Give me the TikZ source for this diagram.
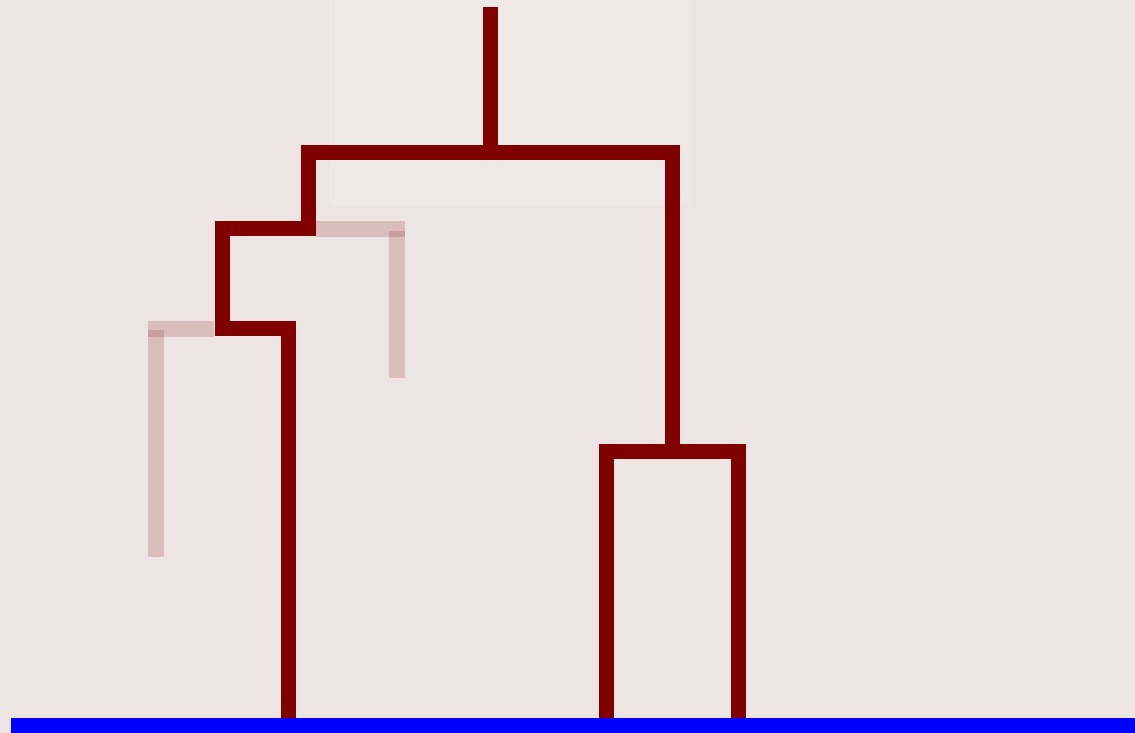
\documentclass[tikz,border=0pt]{standalone}
\usepackage{xcolor}
\usepackage{tikz}
\definecolor{treered}{RGB}{128,0,0}
\definecolor{paperbg}{RGB}{236,229,227}
\definecolor{paperlight}{RGB}{241,238,233}
\colorlet{groundblue}{blue}

\begin{document}
\begin{tikzpicture}[x=0.02cm, y=-0.02cm,
    branch/.style={draw=treered, line width=0.3cm, line join=miter},
    ghost/.style={fill=treered, fill opacity=0.17},
    groundbar/.style={fill=groundblue}]
    % Background paper
    \fill[paperbg] (0,0) rectangle (1135,733);
    \fill[paperlight, opacity=0.5] (330,0) rectangle (690,205);
    \useasboundingbox (0,0) rectangle (1135,733);

    % Faded branches behind the tree
    \fill[ghost] (316,221) rectangle (405,237);
    \fill[ghost] (389,231) rectangle (405,378);
    \fill[ghost] (148,321) rectangle (214,337);
    \fill[ghost] (148,330) rectangle (164,557);

    % Points of the tree
    \coordinate (leafA) at (288,718);
    \coordinate (leafB) at (606.5,718);
    \coordinate (leafC) at (738.5,718);
    \coordinate (joinA) at (222.5,328.5);
    \coordinate (joinAB) at (308.5,228.5);
    \coordinate (joinBC) at (672.5,451.5);
    \coordinate (top) at (490.5,152.5);
    \coordinate (root) at (490.5,7);

    % Dendrogram
    \draw[branch] (leafA) |- (joinA) |- (joinAB) |- (top) -| (joinBC) -| (leafB);
    \draw[branch] (leafC) |- (joinBC);
    \draw[branch] (root) -- (top);

    % Ground line
    \fill[groundbar] (11,718) rectangle (1135,733);
\end{tikzpicture}
\end{document}
